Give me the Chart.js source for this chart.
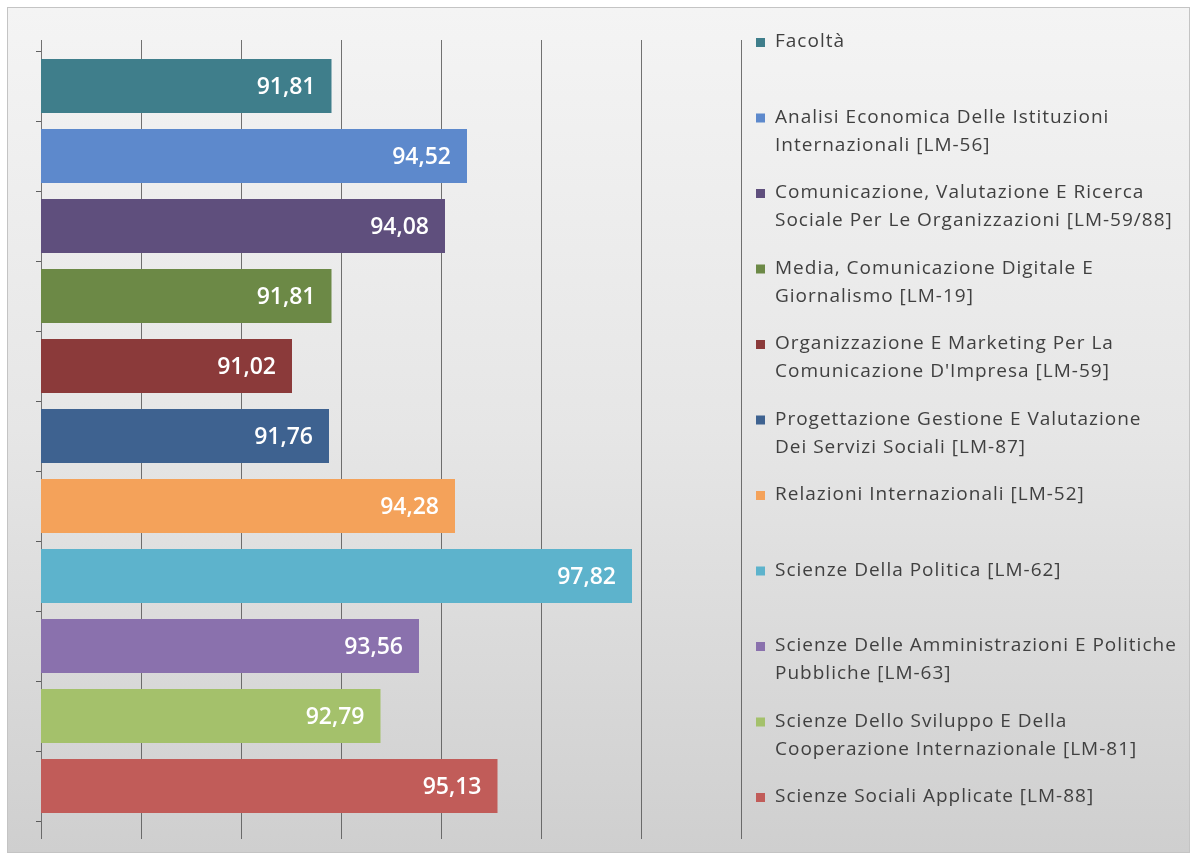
<!DOCTYPE html>
<html>
<head>
<meta charset="utf-8">
<script src="https://cdn.jsdelivr.net/npm/chart.js@4.4.1/dist/chart.umd.min.js"></script>
<style>
  body { margin: 0; background: #fff; }
  #panel {
    position: absolute; left: 7px; top: 7px; width: 1183px; height: 846px;
    box-sizing: border-box; border: 1px solid #c4c4c4;
    background: linear-gradient(to bottom, #f4f4f4 0%, #e6e6e6 50%, #cfcfcf 100%);
  }
  #wrap { position: absolute; left: 0; top: 0; width: 1181px; height: 844px; }
</style>
</head>
<body>
<div id="panel"><div id="wrap"><canvas id="myChart"></canvas></div></div>
<script>
// corsi di laurea (legend text, already split as in the picture)
const courseLines = [
  ['Facoltà'],
  ['Analisi Economica Delle Istituzioni', 'Internazionali [LM-56]'],
  ['Comunicazione, Valutazione E Ricerca', 'Sociale Per Le Organizzazioni [LM-59/88]'],
  ['Media, Comunicazione Digitale E', 'Giornalismo [LM-19]'],
  ['Organizzazione E Marketing Per La', 'Comunicazione D\'Impresa [LM-59]'],
  ['Progettazione Gestione E Valutazione', 'Dei Servizi Sociali [LM-87]'],
  ['Relazioni Internazionali [LM-52]'],
  ['Scienze Della Politica [LM-62]'],
  ['Scienze Delle Amministrazioni E Politiche', 'Pubbliche [LM-63]'],
  ['Scienze Dello Sviluppo E Della', 'Cooperazione Internazionale [LM-81]'],
  ['Scienze Sociali Applicate [LM-88]']
];
const scores = [91.81, 94.52, 94.08, 91.81, 91.02, 91.76, 94.28, 97.82, 93.56, 92.79, 95.13];
const colors = ['#3f7e8b', '#5d89cc', '#5f4f7d', '#6c8946', '#8b3a3a', '#3e6290',
                '#f4a25a', '#5db3cc', '#8a71ad', '#a4c16b', '#c15c59'];
const xMin = 86, xMax = 100, xStep = 2;

const courses = courseLines.map(l => l.join(' '));

// one dataset per course so every course gets its own legend entry
const datasets = courses.map((name, i) => ({
  label: name,
  data: scores.map((v, j) => (j === i ? v : null)),
  backgroundColor: colors[i],
  borderWidth: 0,
  skipNull: true,
  categoryPercentage: 1,
  barPercentage: 0.77
}));

const valueLabels = {
  id: 'valueLabels',
  afterDatasetsDraw(chart) {
    const c = chart.ctx;
    c.save();
    c.font = '600 23px "Open Sans"';
    c.fillStyle = '#ffffff';
    c.textAlign = 'right';
    c.textBaseline = 'middle';
    chart.data.datasets.forEach((ds, i) => {
      chart.getDatasetMeta(i).data.forEach((bar, j) => {
        if (ds.data[j] == null) return;
        c.fillText(ds.data[j].toFixed(2).replace('.', ','), bar.x - 16, bar.y + 1);
      });
    });
    c.restore();
  }
};

// vertical lines go a little above the plot, like the original
const gridTop = {
  id: 'gridTop',
  beforeDatasetsDraw(chart) {
    const c = chart.ctx, xs = chart.scales.x, top = chart.chartArea.top;
    c.save();
    c.strokeStyle = 'rgba(80,80,80,0.8)';
    c.lineWidth = 1;
    xs.ticks.forEach(t => {
      const px = Math.round(xs.getPixelForValue(t.value)) + 0.5;
      c.beginPath(); c.moveTo(px, top - 11); c.lineTo(px, top); c.stroke();
    });
    c.restore();
  }
};

const sideLegend = {
  id: 'sideLegend',
  afterDraw(chart) {
    const c = chart.ctx;
    c.save();
    c.font = '19px "Open Sans"';
    c.letterSpacing = '1px';
    c.textAlign = 'left';
    c.textBaseline = 'middle';
    chart.data.datasets.forEach((ds, i) => {
      const y = 34 + i * 75.5;
      c.fillStyle = ds.backgroundColor;
      c.fillRect(748, y - 4, 9, 9);
      c.fillStyle = '#404040';
      courseLines[i].forEach((line, k) => c.fillText(line, 767, y + k * 28));
    });
    c.restore();
  }
};

const ctx = document.getElementById('myChart');

new Chart(ctx, {
  type: 'bar',
  data: { labels: courses, datasets: datasets },
  options: {
    indexAxis: 'y',
    responsive: true,
    maintainAspectRatio: false,
    animation: false,
    layout: { padding: { left: 28, top: 43, right: 448, bottom: 13 } },
    plugins: { legend: { display: false }, tooltip: { enabled: false } },
    scales: {
      x: {
        min: xMin, max: xMax,
        ticks: { display: false, stepSize: xStep },
        grid: { color: 'rgba(80,80,80,0.8)', tickLength: 18, drawTicks: true },
        border: { display: false }
      },
      y: {
        ticks: { display: false },
        grid: { drawOnChartArea: false, tickLength: 5, color: 'rgba(60,60,60,0.8)' },
        border: { display: true, color: 'rgba(120,120,120,0.4)' }
      }
    }
  },
  plugins: [valueLabels, gridTop, sideLegend]
});
</script>
</body>
</html>
